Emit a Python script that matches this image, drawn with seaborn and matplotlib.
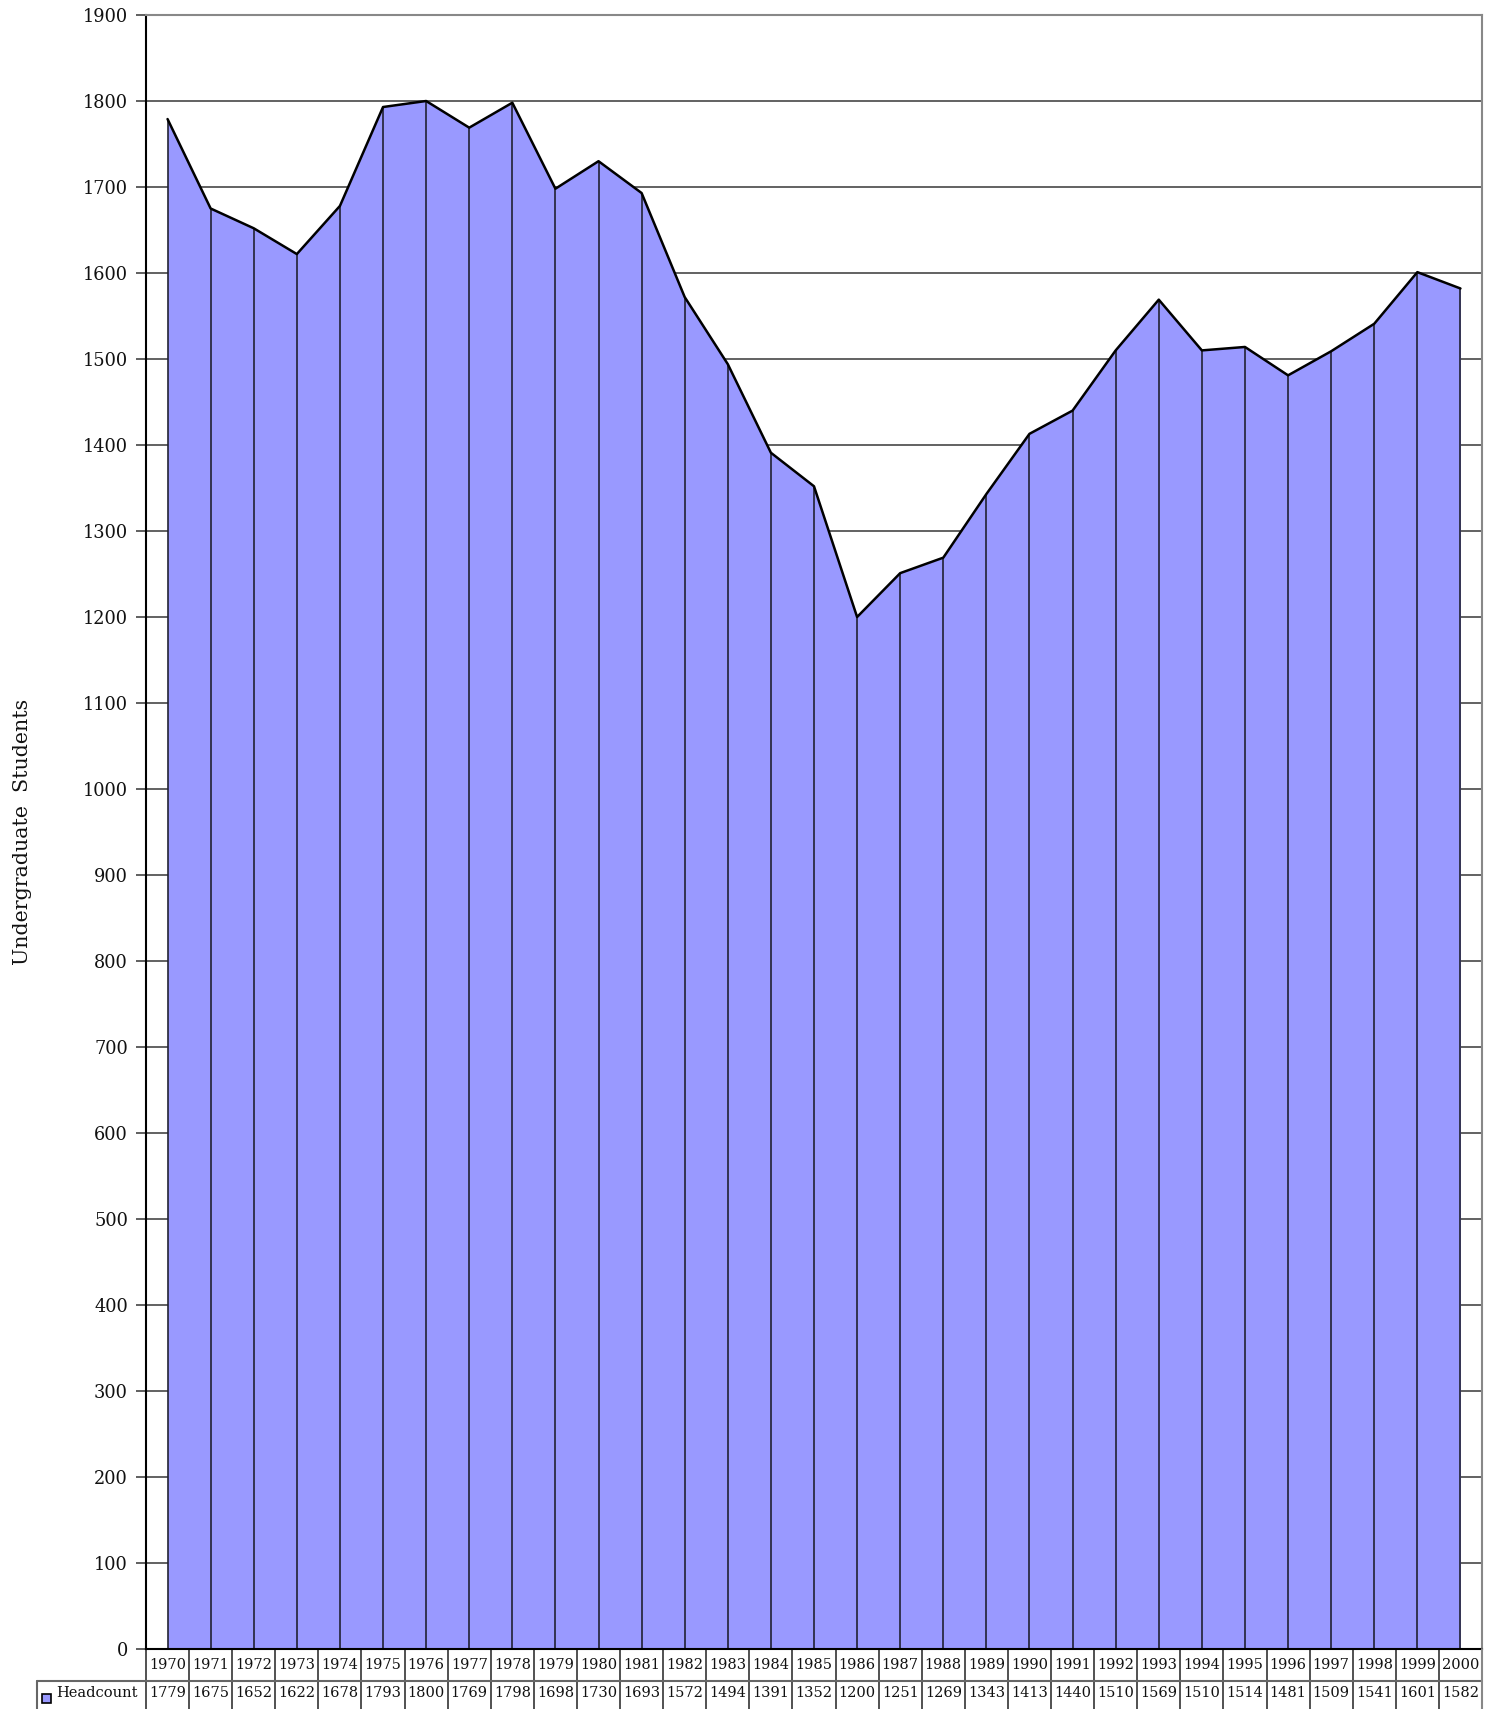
import matplotlib
matplotlib.use("Agg")
import matplotlib.pyplot as plt
import seaborn as sns
import numpy as np
import pandas as pd
from matplotlib.patches import Rectangle
from matplotlib.transforms import blended_transform_factory

years = [1970, 1971, 1972, 1973, 1974, 1975, 1976, 1977, 1978, 1979, 1980,
         1981, 1982, 1983, 1984, 1985, 1986, 1987, 1988, 1989, 1990, 1991,
         1992, 1993, 1994, 1995, 1996, 1997, 1998, 1999, 2000]
headcount = [1779, 1675, 1652, 1622, 1678, 1793, 1800, 1769, 1798, 1698, 1730,
             1693, 1572, 1494, 1391, 1352, 1200, 1251, 1269, 1343, 1413, 1440,
             1510, 1569, 1510, 1514, 1481, 1509, 1541, 1601, 1582]
series_name = "Headcount"
y_label = "Undergraduate  Students"
y_ticks = list(range(0, 1901, 100))

sns.set_theme(style="white")
plt.rcParams['font.family'] = ['DejaVu Serif']

W, H = 1496, 1709
fig = plt.figure(figsize=(W / 100, H / 100), dpi=100)
L, R, T, B = 146, 1482, 15, 1649
ax = fig.add_axes([L / W, 1 - B / H, (R - L) / W, (B - T) / H])

df = pd.DataFrame({"idx": np.arange(len(years)), "year": years, "value": headcount})
fill = "#9999FF"

ax.set_xlim(-0.5, len(years) - 0.5)
ax.set_ylim(0, 1900)
ax.set_yticks(y_ticks)
ax.set_yticklabels([str(t) for t in y_ticks], fontsize=12.8, color="#111111")
ax.set_xticks([])

for t in y_ticks[1:]:
    ax.axhline(t, color="#555555", lw=1.3, zorder=0)

ax.fill_between(df["idx"], 0, df["value"], color=fill, lw=0, zorder=1)
ax.vlines(df["idx"], 0, df["value"], color="#222233", lw=1.2, zorder=2)
sns.lineplot(data=df, x="idx", y="value", ax=ax, color="black", lw=1.8, zorder=3)
ax.set_xlabel("")
ax.set_ylabel(y_label, fontsize=14.8, color="#111111")
ax.yaxis.set_label_coords(-0.0855, 0.5)

for side in ["top", "right"]:
    ax.spines[side].set_color("#888888")
    ax.spines[side].set_linewidth(1.5)
for side in ["left", "bottom"]:
    ax.spines[side].set_color("black")
    ax.spines[side].set_linewidth(1.5)
ax.tick_params(axis="y", left=True, length=7, width=1.2, color="#444444", pad=6)

# data table below axes
trans = blended_transform_factory(ax.transData, fig.transFigure)
y_axb = 1 - B / H
y_mid = 1 - 1681 / H
y_bot = 0.0
tfs = 10.5
for i in range(len(years) + 1):
    ax.plot([i - 0.5, i - 0.5], [y_axb, y_bot], transform=trans, color="#333333",
            lw=1.2, clip_on=False)
for i, (yr, v) in enumerate(zip(years, headcount)):
    ax.text(i, (y_axb + y_mid) / 2, str(yr), transform=trans, ha="center",
            va="center", fontsize=tfs, color="#111111")
    ax.text(i, y_mid / 2 + 0.001, str(v), transform=trans, ha="center",
            va="center", fontsize=tfs, color="#111111")
# headcount row borders
fig.add_artist(plt.Line2D([37 / W, R / W], [y_mid, y_mid], color="#666666", lw=1.5))
fig.add_artist(plt.Line2D([37 / W, 37 / W], [y_mid, 0], color="#666666", lw=1.5))
fig.add_artist(plt.Line2D([R / W, R / W], [y_axb, 0], color="#888888", lw=1.5))
fig.add_artist(Rectangle((42 / W, 1 - 1703 / H), 9 / W, 9 / H, facecolor=fill,
                         edgecolor="black", lw=1.2, transform=fig.transFigure))
fig.text(56 / W, y_mid / 2 + 0.001, series_name, ha="left", va="center",
         fontsize=tfs, color="#111111")

fig.savefig("out.png", dpi=100, facecolor="white")
